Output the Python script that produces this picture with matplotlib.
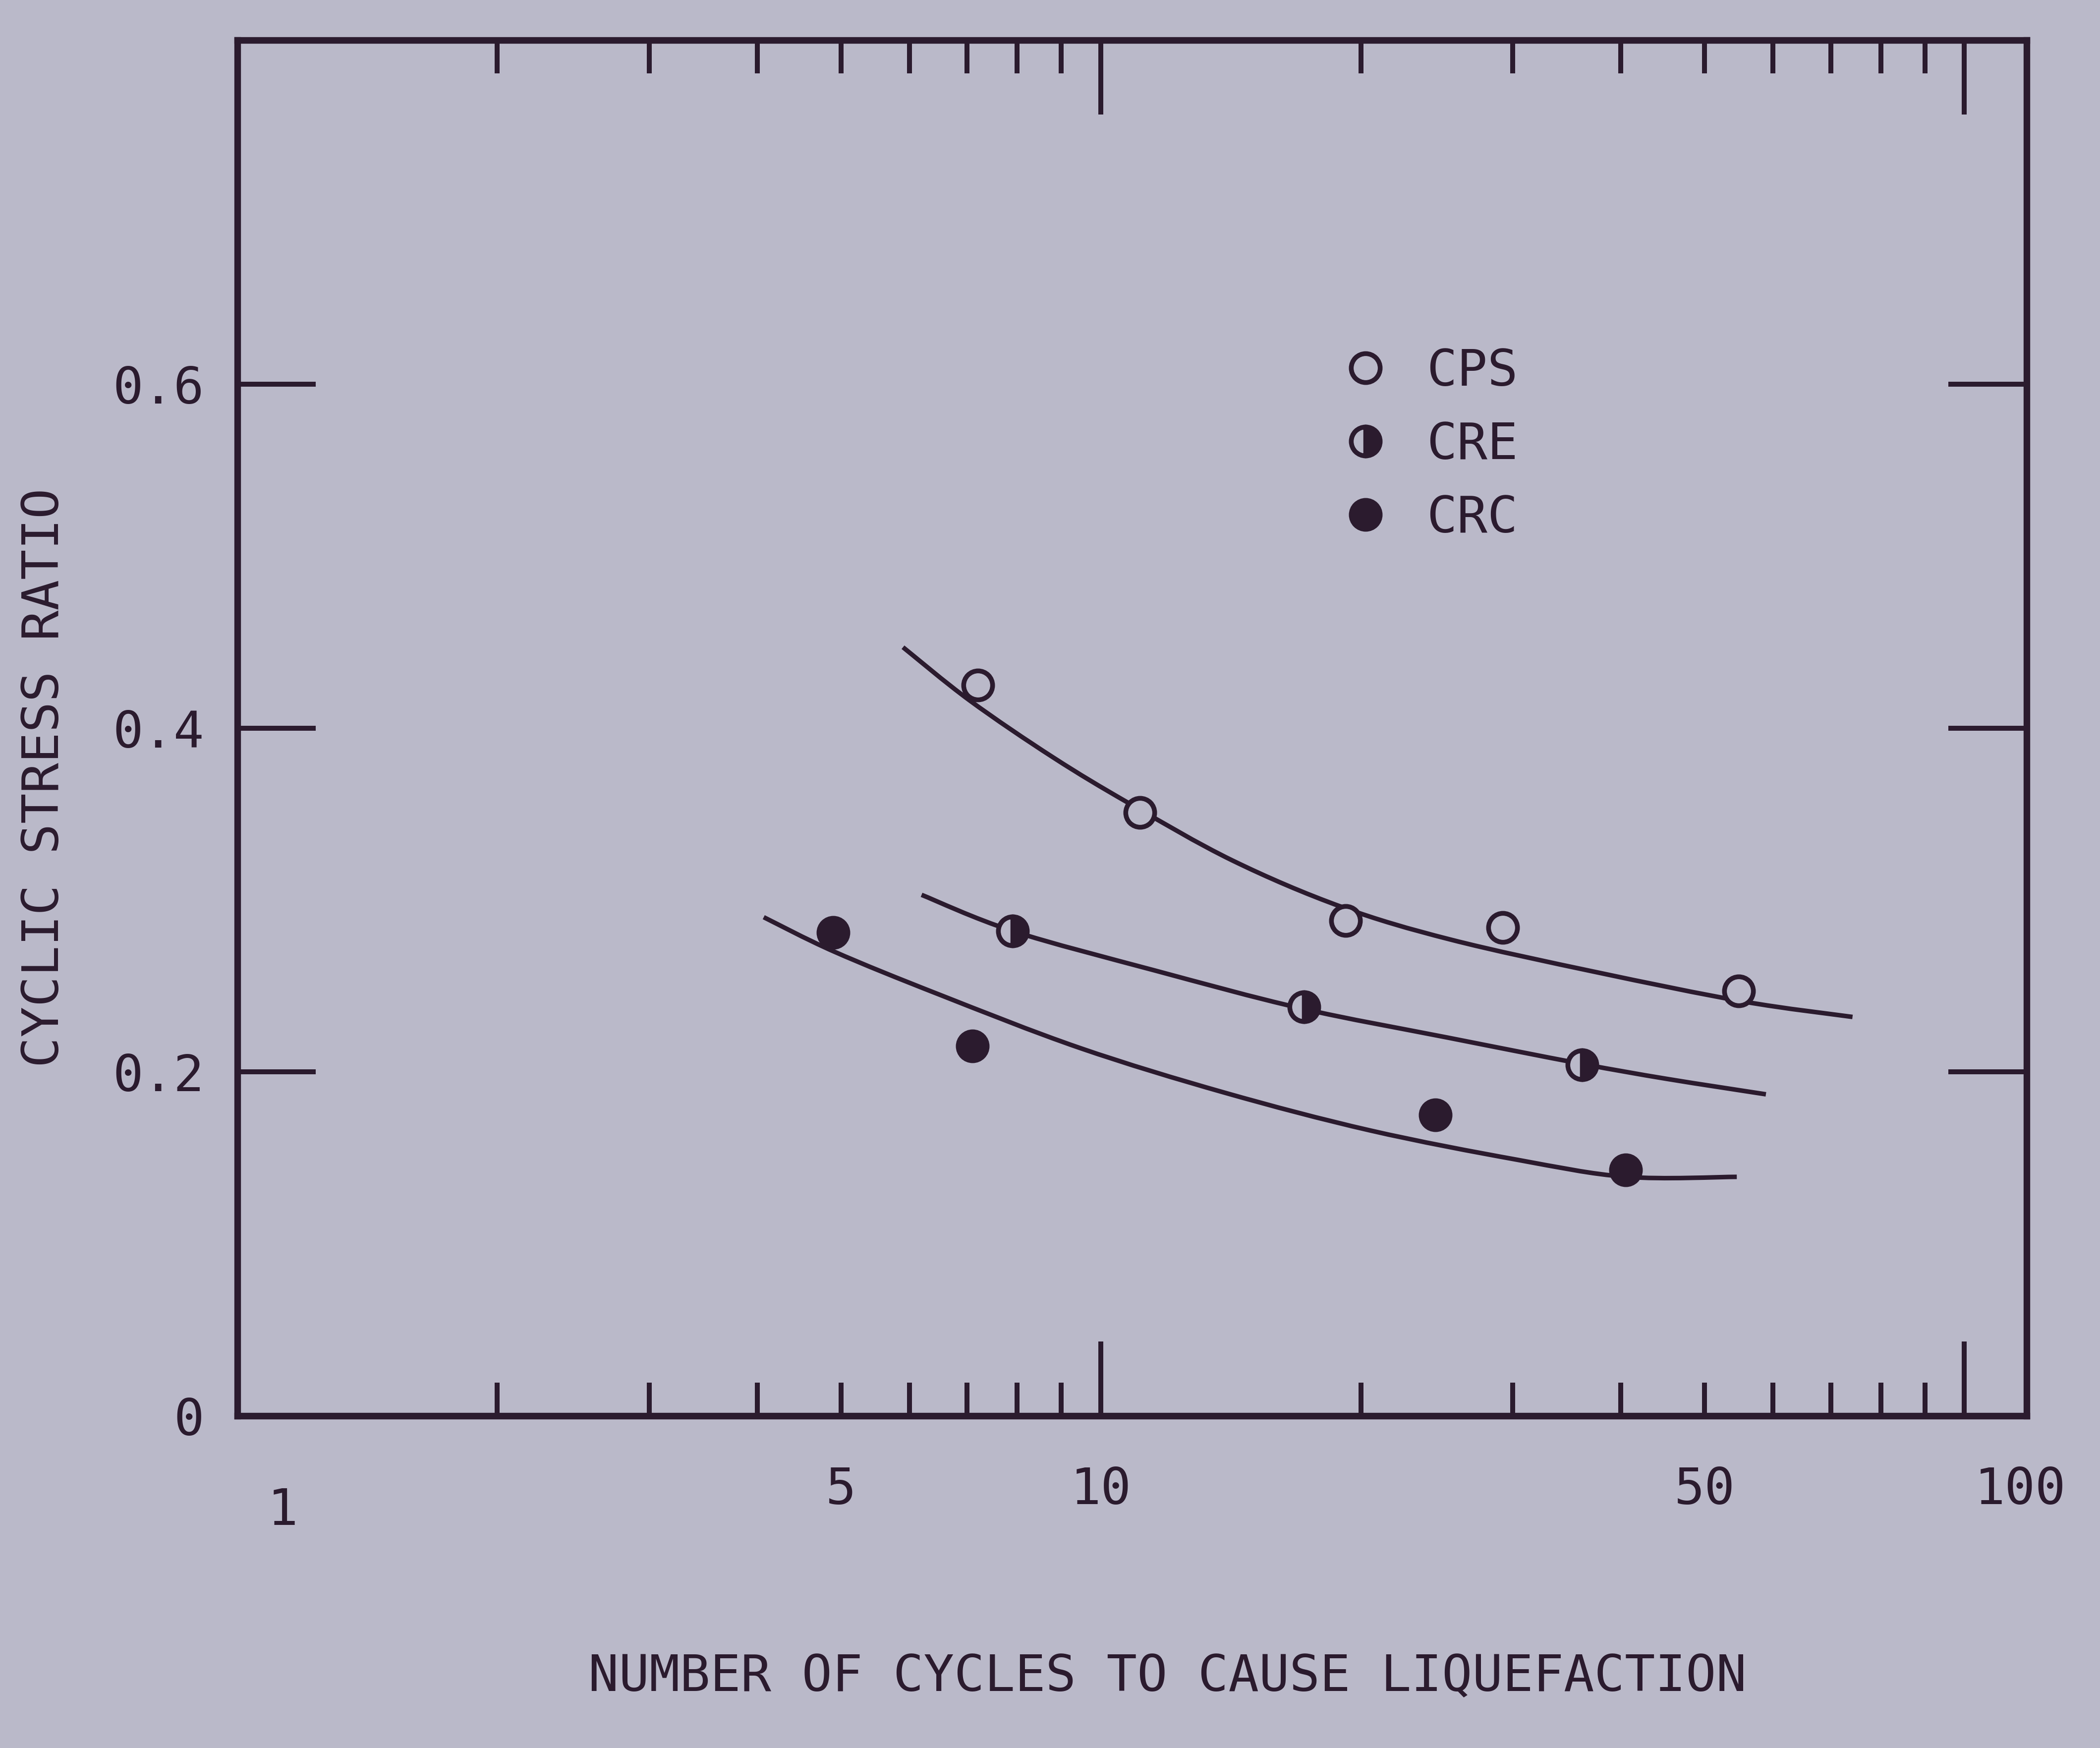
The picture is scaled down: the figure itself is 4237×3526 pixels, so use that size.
import matplotlib
matplotlib.use('Agg')
import numpy as np
import matplotlib.pyplot as plt
import matplotlib.transforms as mtransforms
from matplotlib.path import Path
from matplotlib.patches import PathPatch
from matplotlib.ticker import NullLocator

# ---- data ----
cps_n = [7.2, 11.1, 19.2, 29.2, 54.8]
cps_csr = [0.425, 0.351, 0.288, 0.284, 0.247]
cre_n = [7.9, 17.2, 36.1]
cre_csr = [0.282, 0.238, 0.204]
crc_n = [4.9, 7.1, 24.4, 40.5]
crc_csr = [0.281, 0.215, 0.175, 0.143]

# hand-drawn trend curves
cps_fit_n = [5.9, 7.05, 8.8, 10.8, 14.2, 19.0, 25.4, 37.5, 55.4, 74.2]
cps_fit_csr = [0.447, 0.416, 0.383, 0.356, 0.323, 0.296, 0.277, 0.258, 0.241, 0.232]
cre_fit_n = [6.2, 7.9, 11.55, 17.05, 25.2, 35.8, 45.2, 58.9]
cre_fit_csr = [0.303, 0.282, 0.259, 0.237, 0.220, 0.205, 0.196, 0.187]
crc_fit_n = [4.07, 4.91, 6.5, 9.45, 13.9, 20.5, 30.3, 40.6, 54.5]
crc_fit_csr = [0.290, 0.270, 0.245, 0.214, 0.188, 0.166, 0.149, 0.139, 0.139]

x_major = [1, 10, 100]
x_major_labels = ['1', '10', '100']
x_minor = [2, 3, 4, 5, 6, 7, 8, 9, 20, 30, 40, 50, 60, 70, 80, 90]
x_minor_labels = ['', '', '', '5', '', '', '', '', '', '', '', '50', '', '', '', '']
y_ticks = [0, 0.2, 0.4, 0.6]
y_tick_labels = ['0', '0.2', '0.4', '0.6']

paper = '#bab9c9'
ink = '#2b1b2e'
FS = 24.5

plt.rcParams['font.family'] = ['DejaVu Sans Mono']
plt.rcParams['text.color'] = ink
plt.rcParams['axes.labelcolor'] = ink
plt.rcParams['xtick.color'] = ink
plt.rcParams['ytick.color'] = ink


def smooth_curve(ax, xs, ys, **kw):
    """Draw a smooth (Catmull-Rom / cubic Bezier) curve through the read points,
    built in log10(x) space so it looks smooth on the log axis."""
    lx = np.log10(np.asarray(xs, float))
    y = np.asarray(ys, float)
    n = len(lx)
    verts = [(xs[0], ys[0])]
    codes = [Path.MOVETO]
    for i in range(n - 1):
        p0 = max(i - 1, 0)
        p3 = min(i + 2, n - 1)
        c1x = lx[i] + (lx[i + 1] - lx[p0]) / 6.0
        c1y = y[i] + (y[i + 1] - y[p0]) / 6.0
        c2x = lx[i + 1] - (lx[p3] - lx[i]) / 6.0
        c2y = y[i + 1] - (y[p3] - y[i]) / 6.0
        verts += [(10 ** c1x, c1y), (10 ** c2x, c2y), (xs[i + 1], ys[i + 1])]
        codes += [Path.CURVE4] * 3
    patch = PathPatch(Path(verts, codes), fill=False, transform=ax.transData, **kw)
    ax.add_patch(patch)


fig = plt.figure(figsize=(4237 / 300, 3526 / 300), dpi=300)
fig.patch.set_facecolor(paper)
ax = fig.add_axes([0.113, 0.19, 0.852, 0.787])
ax.set_facecolor(paper)
ax.set_xscale('log')
ax.set_xlim(1, 118)
ax.set_ylim(0, 0.8)

for s in ax.spines.values():
    s.set_linewidth(3.2)
    s.set_color(ink)

smooth_curve(ax, cps_fit_n, cps_fit_csr, edgecolor=ink, lw=2.2, zorder=2)
smooth_curve(ax, cre_fit_n, cre_fit_csr, edgecolor=ink, lw=2.2, zorder=2)
smooth_curve(ax, crc_fit_n, crc_fit_csr, edgecolor=ink, lw=2.2, zorder=2)

ax.plot(cps_n, cps_csr, ls='none', marker='o', ms=14, mew=2.3, mfc=paper, mec=ink,
        zorder=3, label='CPS')
ax.plot(cre_n, cre_csr, ls='none', marker='o', ms=14, mew=2.3, fillstyle='right',
        mfc=ink, markerfacecoloralt=paper, mec=ink, zorder=3, label='CRE')
ax.plot(crc_n, crc_csr, ls='none', marker='o', ms=14, mew=2.3, mfc=ink, mec=ink,
        zorder=3, label='CRC')

leg = ax.legend(loc='upper left', bbox_to_anchor=(0.591, 0.81), frameon=False,
                handletextpad=0.7, labelspacing=0.48, handlelength=1.0,
                prop={'family': 'DejaVu Sans Mono', 'size': FS})

ax.set_xticks(x_major, labels=x_major_labels)
ax.set_xticks(x_minor, labels=x_minor_labels, minor=True)
ax.set_yticks(y_ticks, labels=y_tick_labels)
ax.yaxis.set_minor_locator(NullLocator())

ax.tick_params(axis='x', which='major', direction='in', length=36, width=2.4,
               top=True, bottom=True, pad=24, labelsize=FS)
ax.tick_params(axis='x', which='minor', direction='in', length=16, width=2.4,
               top=True, bottom=True, pad=24, labelsize=FS)
ax.tick_params(axis='y', which='major', direction='in', length=38, width=2.4,
               left=True, right=True, pad=16, labelsize=FS)

for lab in ax.get_xticklabels():
    if lab.get_text() == '1':
        lab.set_transform(lab.get_transform() +
                          mtransforms.ScaledTranslation(22 / 72, -10 / 72, fig.dpi_scale_trans))
    elif lab.get_text() == '100':
        lab.set_transform(lab.get_transform() +
                          mtransforms.ScaledTranslation(27 / 72, 0, fig.dpi_scale_trans))

ax.set_xlabel('NUMBER OF CYCLES TO CAUSE LIQUEFACTION', fontsize=FS)
ax.set_ylabel('CYCLIC STRESS RATIO', fontsize=FS)
ax.xaxis.set_label_coords(0.52, -0.172)
ax.yaxis.set_label_coords(-0.094, 0.464)

fig.savefig('out.png', dpi=300, facecolor=paper)
